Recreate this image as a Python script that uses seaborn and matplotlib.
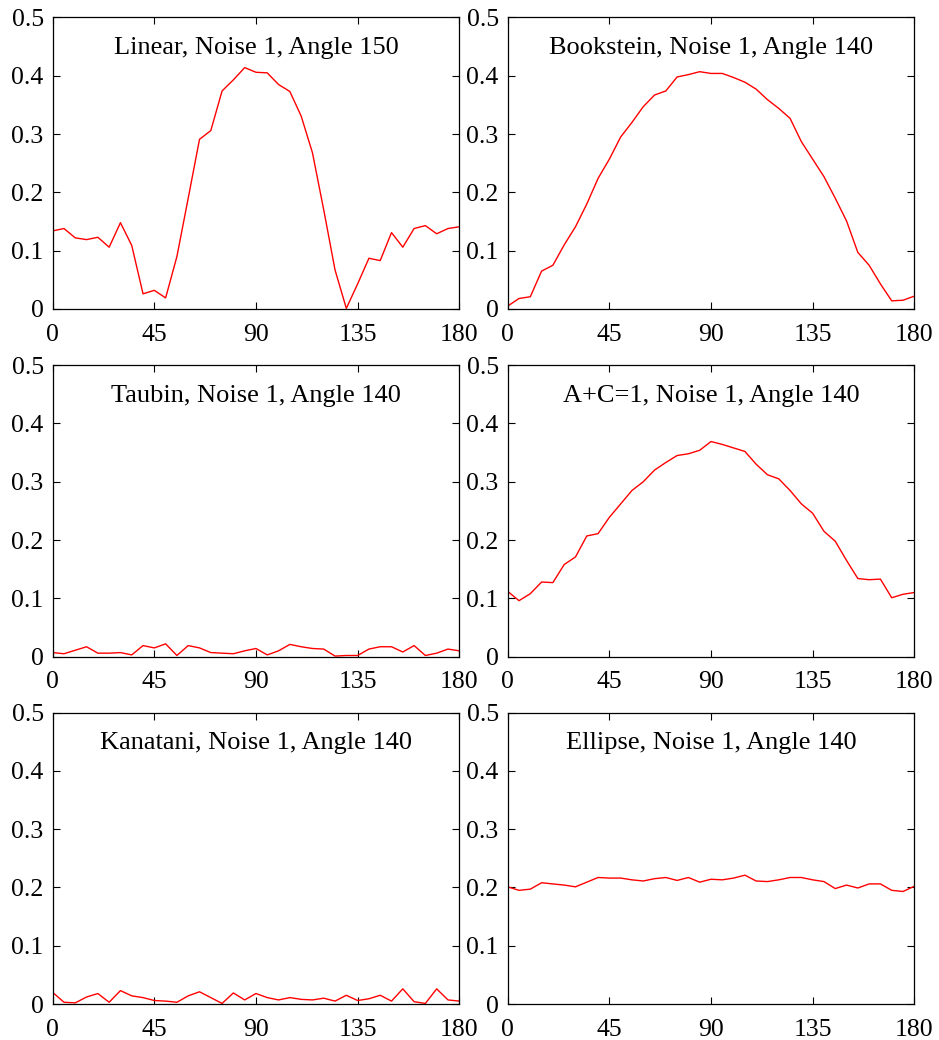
import numpy as np
import pandas as pd
import matplotlib
matplotlib.use("Agg")
import matplotlib.pyplot as plt
import seaborn as sns

angles = list(range(0, 181, 5))

linear = [0.134, 0.138, 0.122, 0.119, 0.123, 0.106, 0.148, 0.109, 0.026, 0.032, 0.019, 0.090,
          0.19, 0.291, 0.306, 0.374, 0.393, 0.414, 0.406, 0.405, 0.385, 0.373, 0.331, 0.268,
          0.17, 0.067, 0.001, 0.043, 0.087, 0.083, 0.131, 0.106, 0.138, 0.143, 0.129, 0.138, 0.141]
bookstein = [0.005, 0.018, 0.021, 0.065, 0.075, 0.11, 0.141, 0.18, 0.224, 0.257, 0.295, 0.32,
             0.347, 0.367, 0.374, 0.398, 0.402, 0.407, 0.404, 0.404, 0.397, 0.389, 0.377, 0.359,
             0.344, 0.327, 0.287, 0.257, 0.227, 0.19, 0.151, 0.097, 0.075, 0.043, 0.014, 0.015, 0.022]
taubin = [0.007, 0.005, 0.011, 0.017, 0.006, 0.006, 0.007, 0.003, 0.019, 0.015, 0.022, 0.002,
          0.019, 0.015, 0.007, 0.006, 0.005, 0.010, 0.014, 0.003, 0.010, 0.021, 0.017, 0.014,
          0.013, 0.001, 0.002, 0.002, 0.013, 0.017, 0.017, 0.008, 0.019, 0.002, 0.006, 0.013, 0.010]
apc1 = [0.112, 0.096, 0.108, 0.128, 0.127, 0.158, 0.171, 0.207, 0.211, 0.239, 0.262, 0.285,
        0.300, 0.320, 0.333, 0.345, 0.348, 0.354, 0.369, 0.364, 0.358, 0.352, 0.330, 0.312,
        0.305, 0.285, 0.262, 0.246, 0.215, 0.198, 0.165, 0.134, 0.132, 0.133, 0.101, 0.107, 0.110]
kanatani = [0.020, 0.003, 0.002, 0.012, 0.018, 0.003, 0.023, 0.014, 0.011, 0.006, 0.005, 0.003,
            0.014, 0.021, 0.011, 0.001, 0.019, 0.007, 0.018, 0.011, 0.007, 0.011, 0.008, 0.007,
            0.010, 0.005, 0.015, 0.006, 0.009, 0.015, 0.005, 0.026, 0.004, 0.001, 0.026, 0.007, 0.005]
ellipse = [0.201, 0.195, 0.197, 0.208, 0.206, 0.204, 0.201, 0.209, 0.217, 0.216, 0.216, 0.213,
           0.211, 0.215, 0.217, 0.212, 0.217, 0.209, 0.214, 0.213, 0.216, 0.221, 0.211, 0.210,
           0.213, 0.217, 0.217, 0.213, 0.210, 0.198, 0.204, 0.199, 0.206, 0.206, 0.195, 0.193, 0.202]

titles = ["Linear, Noise 1, Angle 150", "Bookstein, Noise 1, Angle 140",
          "Taubin, Noise 1, Angle 140", "A+C=1, Noise 1, Angle 140",
          "Kanatani, Noise 1, Angle 140", "Ellipse, Noise 1, Angle 140"]
series = [linear, bookstein, taubin, apc1, kanatani, ellipse]
xticks = [0, 45, 90, 135, 180]
yticks = [0, 0.1, 0.2, 0.3, 0.4, 0.5]
ytick_labels = ["0", "0.1", "0.2", "0.3", "0.4", "0.5"]

sns.set_style("ticks")
plt.rcParams['font.family'] = ['Liberation Serif', 'DejaVu Serif']

fig = plt.figure(figsize=(9.39, 10.4), dpi=100)
lefts = [0.0561, 0.5407]
bottoms = [0.7029, 0.3686, 0.0346]
w, h = 0.433, 0.2803

for i, (title, vals) in enumerate(zip(titles, series)):
    r, c = divmod(i, 2)
    ax = fig.add_axes([lefts[c], bottoms[r], w, h])
    df = pd.DataFrame({"angle": angles, "err": vals})
    sns.lineplot(data=df, x="angle", y="err", ax=ax, color="#ff0000", linewidth=1.0)
    ax.set_xlim(0, 180)
    ax.set_ylim(0, 0.5)
    ax.set_xticks(xticks)
    ax.set_xticklabels([str(t) for t in xticks])
    ax.set_yticks(yticks)
    ax.set_yticklabels(ytick_labels)
    ax.set_xlabel("")
    ax.set_ylabel("")
    ax.tick_params(direction="in", top=True, right=True, length=5, width=0.8,
                   labelsize=18.5, colors="black")
    ax.tick_params(axis="y", pad=6.5)
    ax.tick_params(axis="x", pad=10.5)
    for s in ax.spines.values():
        s.set_linewidth(0.9)
        s.set_color("black")
    ax.text(0.5, 0.895, title, transform=ax.transAxes, ha="center", va="center",
            fontsize=19, color="black")

fig.savefig("out.png", dpi=100)
